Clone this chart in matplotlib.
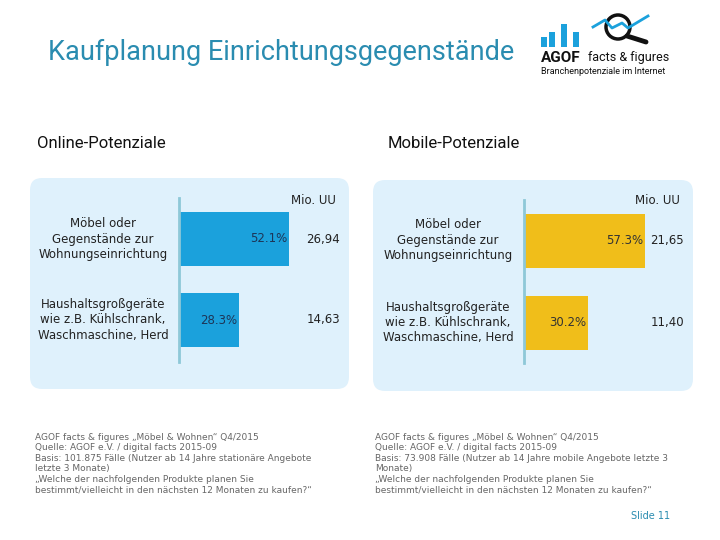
import matplotlib
matplotlib.use("Agg")
import matplotlib.pyplot as plt
from matplotlib.patches import FancyBboxPatch, Rectangle, Circle

categories = ["Möbel oder\nGegenstände zur\nWohnungseinrichtung",
              "Haushaltsgroßgeräte\nwie z.B. Kühlschrank,\nWaschmaschine, Herd"]
online_pct = [52.1, 28.3]
online_mio = ["26,94", "14,63"]
mobile_pct = [57.3, 30.2]
mobile_mio = ["21,65", "11,40"]

W, H = 720, 540
fig = plt.figure(figsize=(7.2, 5.4), dpi=100)
fig.patch.set_facecolor("white")

bg = fig.add_axes([0, 0, 1, 1])
bg.set_xlim(0, W)
bg.set_ylim(H, 0)
bg.axis("off")

def px_axes(x0, y0, x1, y1):
    return fig.add_axes([x0 / W, 1 - y1 / H, (x1 - x0) / W, (y1 - y0) / H])

box_col = "#dff1fc"
for (x0, y0, x1, y1) in [(30, 178, 349, 389), (373, 180, 693, 391)]:
    bg.add_patch(FancyBboxPatch((x0, y0), x1 - x0, y1 - y0,
                                boxstyle="round,pad=0,rounding_size=12",
                                fc=box_col, ec="none", zorder=0))

bg.text(48, 52, "Kaufplanung Einrichtungsgegenstände", fontsize=19.5, color="#2a8cb0",
        family="Roboto", va="center", ha="left")
bg.text(37, 143, "Online-Potenziale", fontsize=12, color="#111111",
        family="Roboto", va="center", ha="left")
bg.text(388, 143, "Mobile-Potenziale", fontsize=12, color="#111111",
        family="Roboto", va="center", ha="left")

# logo
for x, top in [(541, 37), (549, 32), (561, 24), (573, 32)]:
    bg.add_patch(Rectangle((x, top), 6, 47 - top, fc="#1ba1dc", ec="none"))
bg.plot([593, 605, 612, 622, 628, 648], [27, 20, 28, 23, 28, 16], color="#1ba1dc", lw=2)
bg.add_patch(Circle((618, 27), 12, fc="none", ec="#111111", lw=2.5))
bg.plot([627, 646], [36, 42], color="#111111", lw=3.5, solid_capstyle="round")
bg.text(541, 58, "AGOF", fontsize=11, fontweight="bold", color="#111111",
        family="Roboto", va="center", ha="left")
bg.text(588, 58, "facts & figures", fontsize=9, color="#111111",
        family="Roboto", va="center", ha="left")
bg.text(541, 72, "Branchenpotenziale im Internet", fontsize=6.5, color="#111111",
        family="Roboto", va="center", ha="left")

def panel(ax_x0, ax_y0, ax_y1, centers_px, pct, mio, color, pct_col,
          label_x, mio_x, mio_hdr_x, xlim_right):
    ax = px_axes(ax_x0, ax_y0, xlim_right, ax_y1)
    ax.patch.set_alpha(0)
    spacing = centers_px[1] - centers_px[0]
    top = -(centers_px[0] - ax_y0) / spacing
    bot = 1 + (ax_y1 - centers_px[1]) / spacing
    ypos = [0, 1]
    ax.barh(ypos, pct, height=54 / spacing, color=color, edgecolor="none")
    ax.set_ylim(bot, top)
    ax.set_xlim(0, (xlim_right - ax_x0) / 2.115)
    for s in ["top", "right", "bottom"]:
        ax.spines[s].set_visible(False)
    ax.spines["left"].set_color("#8ec8d8")
    ax.spines["left"].set_linewidth(2)
    ax.set_xticks([])
    ax.set_yticks([])
    for yy, v in zip(ypos, pct):
        ax.text(v - 0.8, yy, f"{v:.1f}%", ha="right", va="center",
                fontsize=8.5, color=pct_col, family="DejaVu Sans")
    for c, lab, m in zip(centers_px, categories, mio):
        bg.text(label_x, c, lab, ha="center", va="center", fontsize=8.5,
                color="#222222", linespacing=1.25, family="DejaVu Sans")
        bg.text(mio_x, c, m, ha="center", va="center", fontsize=8.5,
                color="#222222", family="DejaVu Sans")
    bg.text(mio_hdr_x, 200, "Mio. UU", ha="center", va="center", fontsize=8.5,
            color="#222222", family="DejaVu Sans")
    return ax

panel(179, 198, 362, [239, 320], online_pct, online_mio, "#1ba1dc", "#1d3557",
      103, 323, 313, 349)
panel(524, 200, 363, [240.5, 322.5], mobile_pct, mobile_mio, "#f0be1a", "#333333",
      448, 667, 657, 693)

foot_left = ["AGOF facts & figures „Möbel & Wohnen“ Q4/2015",
             "Quelle: AGOF e.V. / digital facts 2015-09",
             "Basis: 101.875 Fälle (Nutzer ab 14 Jahre stationäre Angebote",
             "letzte 3 Monate)",
             "„Welche der nachfolgenden Produkte planen Sie",
             "bestimmt/vielleicht in den nächsten 12 Monaten zu kaufen?“"]
foot_right = ["AGOF facts & figures „Möbel & Wohnen“ Q4/2015",
              "Quelle: AGOF e.V. / digital facts 2015-09",
              "Basis: 73.908 Fälle (Nutzer ab 14 Jahre mobile Angebote letzte 3",
              "Monate)",
              "„Welche der nachfolgenden Produkte planen Sie",
              "bestimmt/vielleicht in den nächsten 12 Monaten zu kaufen?“"]
for i, (l, r) in enumerate(zip(foot_left, foot_right)):
    y = 437 + i * 10.6
    bg.text(35, y, l, fontsize=6.5, color="#666666", va="center", ha="left", family="DejaVu Sans")
    bg.text(375, y, r, fontsize=6.5, color="#666666", va="center", ha="left", family="DejaVu Sans")

bg.text(631, 516, "Slide 11", fontsize=7, color="#2a8cb0", va="center", ha="left",
        family="DejaVu Sans")

fig.savefig("out.png", dpi=100, facecolor="white")
